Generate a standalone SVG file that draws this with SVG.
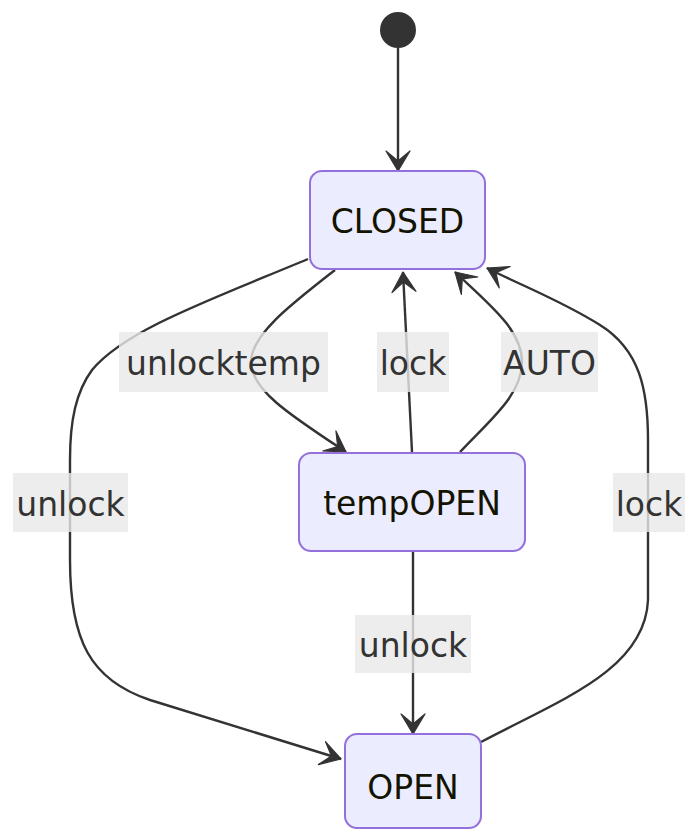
<svg xmlns="http://www.w3.org/2000/svg" width="689" height="830" viewBox="0 0 689 830">
<style>
.node rect{fill:#ECECFF;stroke:#9370DB;stroke-width:2}
.node text{font-family:"DejaVu Sans",sans-serif;font-size:33px;fill:#131300;text-anchor:middle}
.edge{fill:none;stroke:#333;stroke-width:2.4}
.lbl rect{fill:#e8e8e8;opacity:0.8}
.lbl text{font-family:"DejaVu Sans",sans-serif;font-size:33px;fill:#333;text-anchor:middle}
</style>
<defs>
<marker id="arr" viewBox="8 0 12 14" refX="19" refY="7" markerWidth="24" markerHeight="28" markerUnits="userSpaceOnUse" orient="auto">
<path d="M19,7 L9,13 L14,7 L9,1 Z" fill="#333" stroke="#333" stroke-width="0.6" stroke-linejoin="round"/>
</marker>
</defs>
<g id="connectors">
<path class="edge" d="M398,48 L398,171" marker-end="url(#arr)"/>
<path class="edge" d="M308,259 C210,300 125,330 92,370 C76,392 70,420 70,460 L70,560 C70,640 90,680 150,700 L341,759" marker-end="url(#arr)"/>
<path class="edge" d="M335,270 C290,305 251,335 251,362 C251,390 290,415 346,452" marker-end="url(#arr)"/>
<path class="edge" d="M412,452 L403,272" marker-end="url(#arr)"/>
<path class="edge" d="M460,452 C490,420 522,395 522,362 C522,330 490,305 455,272" marker-end="url(#arr)"/>
<path class="edge" d="M481,742 C560,700 645,670 648,600 L648,440 C648,390 640,350 600,325 C560,300 520,285 487,268" marker-end="url(#arr)"/>
<path class="edge" d="M413,551 L413,734" marker-end="url(#arr)"/>
</g>
<g id="labels">
<g class="lbl"><rect x="119" y="332" width="209" height="60"/><text x="223.5" y="375">unlocktemp</text></g>
<g class="lbl"><rect x="377" y="332" width="72" height="60"/><text x="413" y="375">lock</text></g>
<g class="lbl"><rect x="501" y="332" width="97" height="60"/><text x="549.5" y="375">AUTO</text></g>
<g class="lbl"><rect x="13" y="473" width="115" height="59"/><text x="70.5" y="516">unlock</text></g>
<g class="lbl"><rect x="613" y="473" width="72" height="59"/><text x="649" y="516">lock</text></g>
<g class="lbl"><rect x="355" y="615" width="116" height="58"/><text x="413" y="657">unlock</text></g>
</g>
<g id="start"><circle cx="398" cy="30" r="18" fill="#333"/></g>
<g id="CLOSED" class="node"><rect x="310" y="171" width="175" height="98" rx="12"/><text x="397.5" y="233">CLOSED</text></g>
<g id="tempOPEN" class="node"><rect x="299" y="453" width="226" height="98" rx="12"/><text x="412" y="515">tempOPEN</text></g>
<g id="OPEN" class="node"><rect x="345" y="734" width="136" height="94" rx="12"/><text x="413" y="799">OPEN</text></g>
</svg>
